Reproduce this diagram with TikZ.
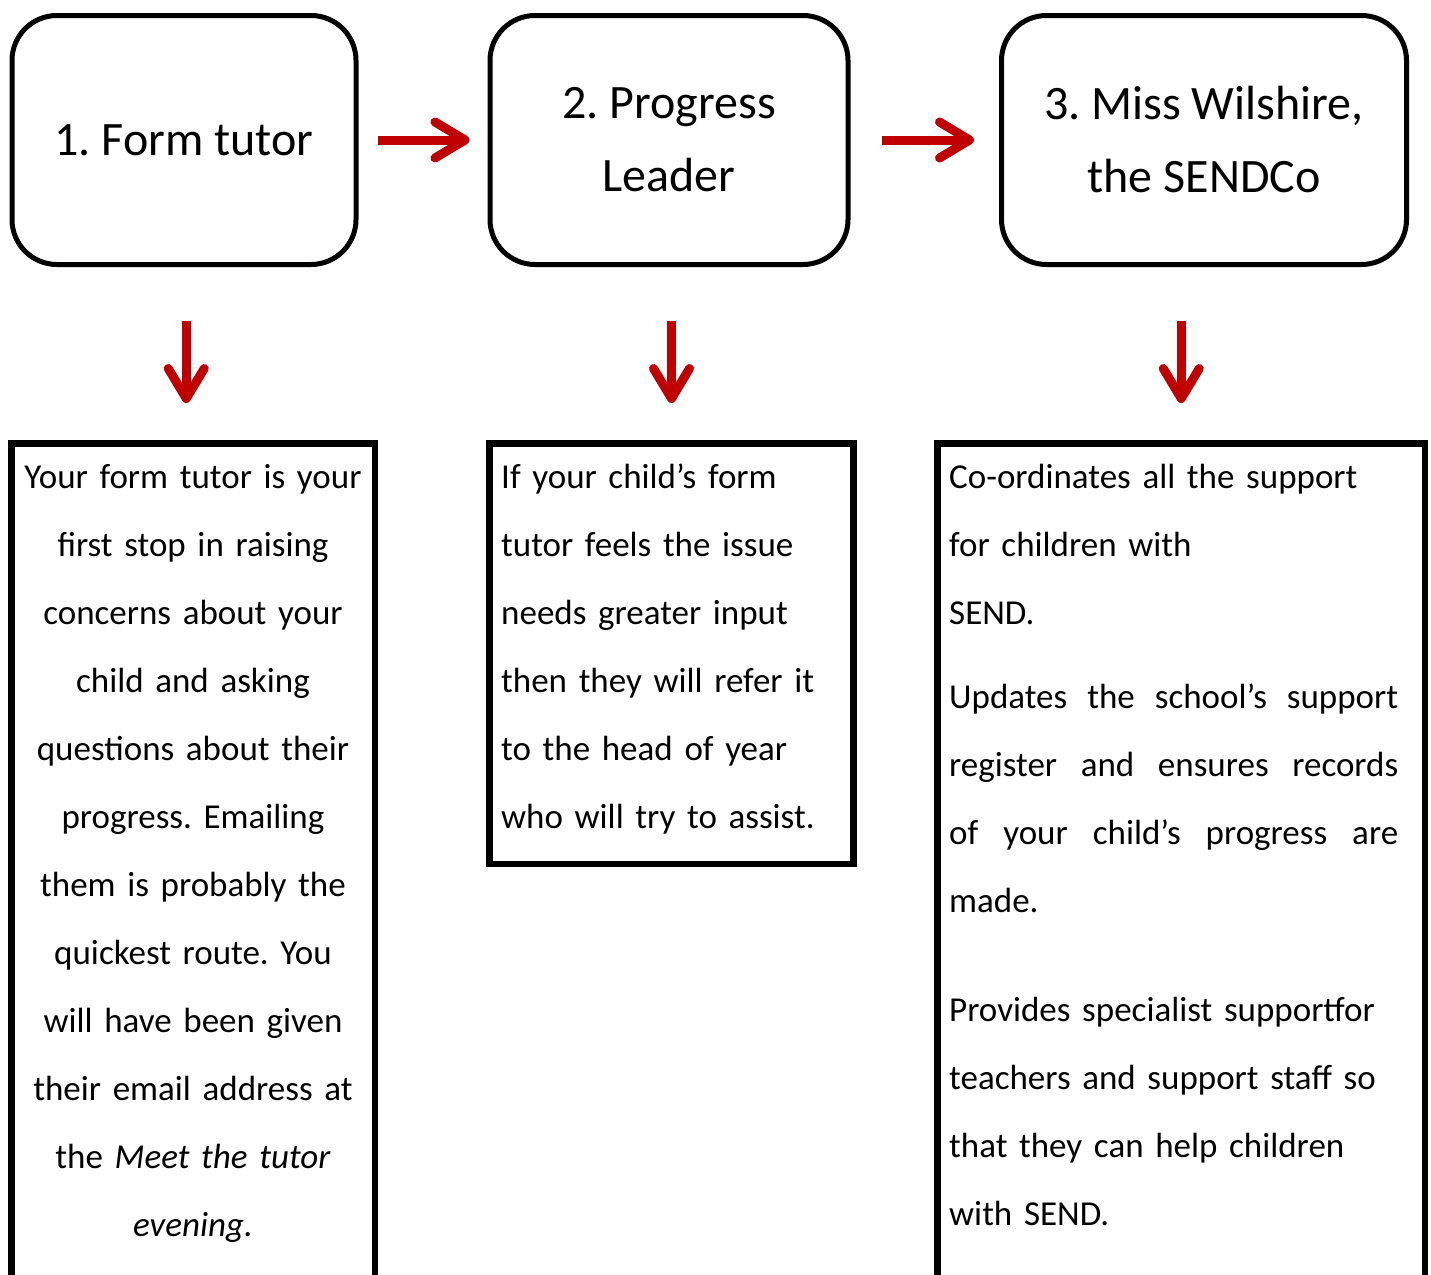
\documentclass[tikz,border=0pt]{standalone}
\usepackage{fontspec}
\setmainfont{Carlito}
\usetikzlibrary{arrows.meta}
\definecolor{arrowred}{HTML}{C00000}
\tikzset{
  titlebox/.style={draw, line width=5pt, rounded corners=45pt, align=center,
    minimum height=249pt, font=\fontsize{48}{73}\selectfont\frenchspacing},
  notebox/.style={draw, line width=6.5pt, anchor=north, inner sep=0pt},
  notetext/.style={inner sep=0pt, font=\fontsize{35}{68}\selectfont\frenchspacing},
  flow/.style={draw=arrowred, line width=9pt,
    -{Straight Barb[length=30pt,width=36pt,round]}},
}
\newcommand{\fullline}[1]{\leavevmode\hbox to 449pt{#1}}
\begin{document}
\begin{tikzpicture}[x=1pt,y=-1pt]
    \useasboundingbox (0,0) rectangle (1431,1274);
    \clip (0,0) rectangle (1431,1274);
    % the three people to contact
    \node[titlebox, minimum width=344pt] (tutor) at (184,140) {1. Form tutor};
    \node[titlebox, minimum width=358pt] (leader) at (669,140) {2. Progress\\Leader};
    \node[titlebox, minimum width=405pt] (sendco) at (1204,140) {3. Miss Wilshire,\\the SENDCo};
    %
    \draw[flow, shorten <=19pt, shorten >=18pt] (tutor.east) -- (leader.west);
    \draw[flow, shorten <=31pt, shorten >=25pt] (leader.east) -- (sendco.west);
    %
    % what each of them does (boxes run off the page)
    \node[notebox, minimum width=363.5pt, minimum height=1000pt] (formnote) at (193.25,440) {};
    \node[notebox, minimum width=364pt, minimum height=420.5pt] (leadnote) at (671.5,440) {};
    \node[notebox, minimum width=487.5pt, minimum height=1000pt] (sendnote) at (1181.25,440) {};
    %
    \node[notetext, text width=350pt, align=center, anchor=base] (formtext) at (193,488)
      {Your form tutor is your\\ first stop in raising\\ concerns about your\\ child and asking\\
       questions about their\\ progress. Emailing\\ them is probably the\\ quickest route. You\\
       will have been given\\ their email address at\\ the \textit{Meet the tutor}\\ \textit{evening.}};
    \node[notetext, text width=345pt, align=left, anchor=base west] (leadtext) at (501,488)
      {If your child’s form\\ tutor feels the issue\\ needs greater input\\ then they will refer it\\
       to the head of year\\ who will try to assist.};
    \node[notetext, text width=449pt, align=left, anchor=base west] (sendtext) at (949,488)
      {Co-ordinates all the support\\ for children with\\ SEND.\\[16pt]
       \fullline{Updates\hfill the\hfill school’s\hfill support}\\
       \fullline{register\hfill and\hfill ensures\hfill records}\\
       \fullline{of\hfill your\hfill child’s\hfill progress\hfill are}\\
       made.\\[41pt]
       Provides specialist supportfor\\ teachers and support staff so\\
       that they can help children\\ with SEND.};
    %
    \draw[flow, shorten <=54pt, shorten >=37pt] ([xshift=-7pt]formnote.north |- tutor.south) -- ([xshift=-7pt]formnote.north);
    \draw[flow, shorten <=54pt, shorten >=37pt] (leadnote.north |- leader.south) -- (leadnote.north);
    \draw[flow, shorten <=54pt, shorten >=37pt] (sendnote.north |- sendco.south) -- (sendnote.north);
\end{tikzpicture}
\end{document}
